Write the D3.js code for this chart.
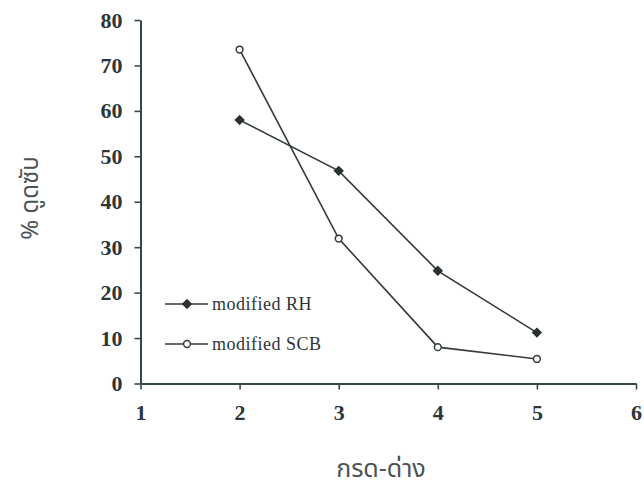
<!DOCTYPE html>
<html>
<head>
<meta charset="utf-8">
<script src="https://cdn.jsdelivr.net/npm/d3@7"></script>
<style>
  html, body { margin: 0; padding: 0; background: #fff; }
  svg { display: block; }
</style>
</head>
<body>
<svg id="chart" width="644" height="488"></svg>
<script>
// pH values (x) and adsorption percentages for the two modified adsorbents
const phValues = [2, 3, 4, 5];
const rhValues = [58.0, 46.8, 24.8, 11.2];
const scbValues = [73.5, 31.9, 8.0, 5.4];
const seriesNames = ["modified RH", "modified SCB"];
const xTicks = [1, 2, 3, 4, 5, 6];
const yTicks = [0, 10, 20, 30, 40, 50, 60, 70, 80];
const xTitle = "กรด-ด่าง";
const yTitle = "% ดูดซับ";

const svg = d3.select("#chart");
const axisColor = "#35494c";
const lineColor = "#333b3c";
const tickFont = "'Liberation Serif', 'Times New Roman', serif";
const thaiFont = "'Noto Sans Thai', 'Noto Sans', 'DejaVu Sans', sans-serif";

const x = d3.scaleLinear().domain([1, 6]).range([140.5, 636]);
const y = d3.scaleLinear().domain([0, 80]).range([383.5, 20]);

// Axes
const xAxis = svg.append("g")
  .attr("transform", `translate(0,${y(0)})`)
  .call(d3.axisBottom(x).tickValues(xTicks).tickFormat(d3.format("d"))
    .tickSize(6).tickPadding(15).tickSizeOuter(0));
const yAxis = svg.append("g")
  .attr("transform", `translate(${x(1)},0)`)
  .call(d3.axisLeft(y).tickValues(yTicks).tickFormat(d3.format("d"))
    .tickSize(6).tickPadding(12).tickSizeOuter(0));

[xAxis, yAxis].forEach(g => {
  g.select(".domain").attr("stroke", axisColor).attr("stroke-width", 2);
  g.selectAll(".tick line").attr("stroke", axisColor).attr("stroke-width", 1.6);
  g.selectAll(".tick text")
    .attr("fill", "#2e3638")
    .style("font-family", tickFont)
    .style("font-weight", "bold")
    .style("font-size", "22px");
});

// Filled diamond marker: a square rotated by 45 degrees
const diamond = "M0,-5.2L5.2,0L0,5.2L-5.2,0Z";

// Series lines
const series = [
  { name: seriesNames[0], values: rhValues, filled: true },
  { name: seriesNames[1], values: scbValues, filled: false }
];
const line = d3.line().x(d => x(d[0])).y(d => y(d[1]));

series.forEach(s => {
  const pts = phValues.map((p, i) => [p, s.values[i]]);
  svg.append("path")
    .datum(pts)
    .attr("fill", "none")
    .attr("stroke", lineColor)
    .attr("stroke-width", 1.6)
    .attr("d", line);
  if (s.filled) {
    svg.selectAll(null).data(pts).enter().append("path")
      .attr("transform", d => `translate(${x(d[0])},${y(d[1])})`)
      .attr("d", diamond)
      .attr("fill", "#2a3132");
  } else {
    svg.selectAll(null).data(pts).enter().append("circle")
      .attr("cx", d => x(d[0])).attr("cy", d => y(d[1]))
      .attr("r", 3.4)
      .attr("fill", "#fff")
      .attr("stroke", lineColor)
      .attr("stroke-width", 1.5);
  }
});

// Legend
const legend = svg.append("g").attr("transform", "translate(165,0)");
series.forEach((s, i) => {
  const ly = 304 + i * 40;
  const g = legend.append("g").attr("transform", `translate(0,${ly})`);
  g.append("line").attr("x1", 0).attr("x2", 43).attr("y1", 0).attr("y2", 0)
    .attr("stroke", lineColor).attr("stroke-width", 1.6);
  if (s.filled) {
    g.append("path").attr("transform", "translate(22,0)")
      .attr("d", diamond).attr("fill", "#2a3132");
  } else {
    g.append("circle").attr("cx", 22).attr("cy", 0).attr("r", 3.4)
      .attr("fill", "#fff").attr("stroke", lineColor).attr("stroke-width", 1.5);
  }
  g.append("text").attr("x", 47).attr("y", 6)
    .attr("fill", "#2e3638")
    .style("font-family", tickFont)
    .style("font-size", "18px")
    .style("letter-spacing", "0.5px")
    .text(s.name);
});

// Axis titles
svg.append("text")
  .attr("x", 381).attr("y", 477)
  .attr("text-anchor", "middle")
  .attr("fill", "#4a5355")
  .style("font-family", thaiFont)
  .style("font-size", "25px")
  .text(xTitle);
svg.append("text")
  .attr("transform", "translate(38,198) rotate(-90)")
  .attr("text-anchor", "middle")
  .attr("fill", "#4a5355")
  .style("font-family", thaiFont)
  .style("font-size", "24px")
  .text(yTitle);
</script>
</body>
</html>
